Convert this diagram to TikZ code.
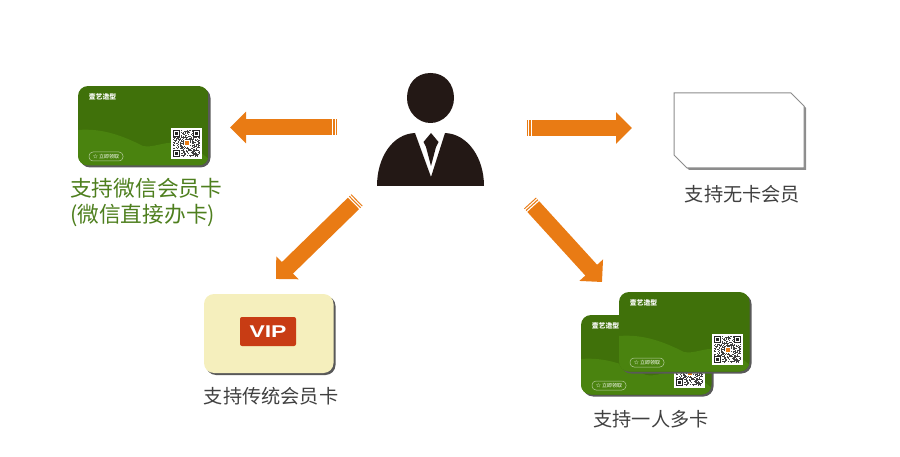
\documentclass[tikz,border=0pt]{standalone}
\usepackage{fontspec}
\setmainfont{Noto Sans CJK SC}
\newfontfamily\vipfont{Liberation Sans}
\usetikzlibrary{arrows.meta}
\definecolor{cardgreen}{HTML}{40710A}
\definecolor{wavegreen}{HTML}{4A830F}
\definecolor{arroworange}{HTML}{E97B14}
\definecolor{suitblack}{HTML}{231815}
\definecolor{labelgray}{HTML}{404040}
\definecolor{labelgreen}{HTML}{4E7F1E}
\definecolor{vipcream}{HTML}{F5EFBD}
\definecolor{vipred}{HTML}{C83C14}
\tikzset{
  bigarrow/.style={draw=arroworange,line width=16pt,-{Triangle[length=16pt,width=31pt]}},
  tailcut/.style={draw=white,line width=19pt,dash pattern=on 1.1pt off 1.4pt on 1.1pt off 1.4pt on 1.1pt off 300pt,dash phase=1.4pt},
  cardlabel/.style={text=labelgray,font=\fontsize{19.2}{23}\selectfont,inner sep=0pt},
  cardshadow/.style={fill=black!65,rounded corners=10pt},
  vipbox/.style={fill=vipred,rounded corners=2pt,inner sep=0pt}
}
% one green card, #1 and #2 give its top left corner
\newcommand{\greencard}[2]{%
\begin{scope}[shift={(#1,#2)}]
\fill[cardshadow] (2,2) rectangle (132.5,81.5);
\begin{scope}
\path[clip,rounded corners=10pt] (0,0) rectangle (130.5,79.5);
\fill[cardgreen] (0,0) rectangle (130.5,79.5);
\fill[wavegreen] (0,44) .. controls (25,42) and (45,50) .. (65,60) .. controls (75,62) and (85,56) .. (95,57) .. controls (110,58) and (122,65) .. (130.5,73) -- (130.5,79.5) -- (0,79.5) -- cycle;
\end{scope}
\node[text=white,font=\fontsize{6.8}{7}\bfseries,inner sep=0pt] (logo) at (24.5,11) {壹艺造型};
\node[draw=white!60!wavegreen,line width=.5pt,rounded corners=4pt,minimum width=34pt,minimum height=9pt,inner sep=0pt,text=white,font=\fontsize{5}{6}\selectfont] (getcard) at (28,70.5) {☆ 立即领取};
\fill[white] (93,42) rectangle (124,73);
\pgfmathsetseed{417}
\foreach \i in {0,...,28}{\foreach \j in {0,...,28}{
  \pgfmathparse{rnd<0.5 ? 1 : 0}
  \ifnum\pgfmathresult=1 \fill[black!75] (95+\i*.93,44+\j*.93) rectangle +(.93,.93);\fi
}}
\foreach \u/\v in {95/44,115/44,95/64}{
  \fill[white] (\u-.5,\v-.5) rectangle +(8,8);
  \fill[black!85] (\u,\v) rectangle +(7,7);
  \fill[white] (\u+1,\v+1) rectangle +(5,5);
  \fill[black!85] (\u+2,\v+2) rectangle +(3,3);
}
\fill[white] (105.5,54.5) rectangle +(6,6);
\fill[arroworange] (106.5,55.5) rectangle +(4,4);
\end{scope}}
\begin{document}
\begin{tikzpicture}[x=1pt,y=-1pt]
\useasboundingbox (0,0) rectangle (900,457);
% person
\fill[suitblack] (430.5,73) .. controls (445,73) and (454,84) .. (454,98) .. controls (454,112) and (443,123) .. (430.5,123) .. controls (418,123) and (407,112) .. (407,98) .. controls (407,84) and (416,73) .. (430.5,73) -- cycle;
\fill[suitblack] (377,186) .. controls (377,158) and (392,134) .. (415,133) -- (431,177) -- (445,133) .. controls (468,134) and (484,158) .. (484,186) -- cycle;
\fill[suitblack] (431,133) -- (423.5,142) -- (426,147) -- (431,166) -- (436,147) -- (438.5,142) -- cycle;
% arrows
\coordinate (wechattail) at (337,127.5);
\coordinate (wechattip) at (230,127.5);
\coordinate (nocardtail) at (527,128);
\coordinate (nocardtip) at (632,128);
\coordinate (viptail) at (357,200);
\coordinate (viptip) at (276,279);
\coordinate (multitail) at (530,203);
\coordinate (multitip) at (602,282);
\draw[bigarrow] (wechattail) -- (wechattip);
\draw[tailcut] (wechattail) -- (wechattip);
\draw[bigarrow] (nocardtail) -- (nocardtip);
\draw[tailcut] (nocardtail) -- (nocardtip);
\draw[bigarrow] (viptail) -- (viptip);
\draw[tailcut] (viptail) -- (viptip);
\draw[bigarrow] (multitail) -- (multitip);
\draw[tailcut] (multitail) -- (multitip);
% wechat card
\greencard{78}{86}
\node[text=labelgreen,font=\fontsize{21.7}{26}\selectfont,align=left,inner sep=0pt,anchor=north west] (wechatlabel) at (70,178) {支持微信会员卡\\(微信直接办卡)};
% no card
\fill[black!45] (676,95) -- (793,95) -- (806,108) -- (806,170) -- (689,170) -- (676,157) -- cycle;
\draw[fill=white,draw=black!45,line width=1pt] (674,93) -- (791,93) -- (804,106) -- (804,168) -- (687,168) -- (674,155) -- cycle;
\node[cardlabel] (nocardlabel) at (742.5,194) {支持无卡会员};
% vip card
\fill[cardshadow] (206,296) rectangle (335.5,375);
\fill[vipcream,rounded corners=10pt] (204,294) rectangle (333.5,373);
\node[vipbox,minimum width=56pt,minimum height=29pt,text=white,font=\vipfont\fontsize{17}{20}\bfseries] (vipbadge) at (268,331.5) {\scalebox{1.35}[1]{VIP}};
\node[cardlabel] (viplabel) at (271,396) {支持传统会员卡};
% two cards
\greencard{581}{315}
\greencard{619}{292}
\node[cardlabel] (multilabel) at (651,419) {支持一人多卡};
\end{tikzpicture}
\end{document}
